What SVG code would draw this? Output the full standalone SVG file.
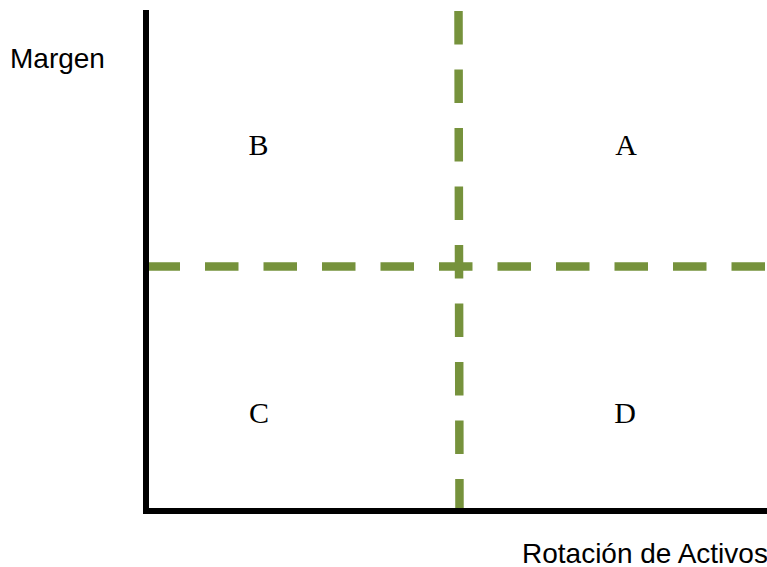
<svg xmlns="http://www.w3.org/2000/svg" width="767" height="567" viewBox="0 0 767 567">
<style>
.axis{stroke:#000;stroke-width:6;fill:none}
.dash{stroke:#76923C;stroke-width:8.5;fill:none;stroke-dasharray:33.5 25}
.lbl{font-family:"Liberation Sans",Arial,sans-serif;font-size:28px;fill:#000}
.q{font-family:"Liberation Serif","Times New Roman",serif;font-size:30px;fill:#000;text-anchor:middle}
</style>
<rect width="767" height="567" fill="#fff"/>
<g id="connectors">
<line class="dash" x1="146.5" y1="266.5" x2="767" y2="266.5"/>
<line class="dash" x1="458.5" y1="11" x2="459.5" y2="508"/>
<path class="axis" d="M146 10 V511 H767"/>
</g>
<g id="label-margen"><text class="lbl" x="10" y="68">Margen</text></g>
<g id="label-rotacion"><text class="lbl" x="522" y="563">Rotación de Activos</text></g>
<g id="quadrant-B"><text class="q" x="258.5" y="155">B</text></g>
<g id="quadrant-A"><text class="q" x="626" y="155">A</text></g>
<g id="quadrant-C"><text class="q" x="259" y="423">C</text></g>
<g id="quadrant-D"><text class="q" x="625" y="423">D</text></g>
</svg>
